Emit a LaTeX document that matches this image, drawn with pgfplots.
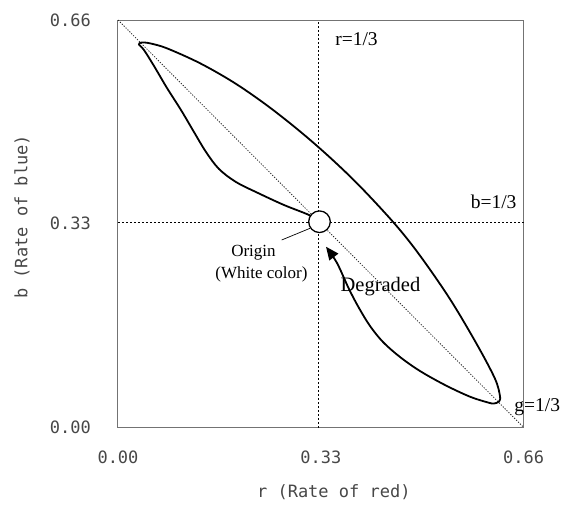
\documentclass[border=0pt]{standalone}
\usepackage{fontspec}
\setmainfont{Liberation Serif}
\newfontfamily\monofont{DejaVu Sans Mono}
\usepackage{pgfplots}
\pgfplotsset{compat=1.18}
\usetikzlibrary{arrows.meta}
\begin{document}
\begin{tikzpicture}
\begin{axis}[
  scale only axis,
  width=405.7pt, height=407.5pt,
  xmin=0, xmax=0.66, ymin=0, ymax=0.66,
  clip=false,
  axis line style={draw=black!55, line width=1pt},
  major tick length=0pt,
  xtick={0,0.33,0.66}, xticklabels={0.00,0.33,0.66},
  ytick={0,0.33,0.66}, yticklabels={0.00,0.33,0.66},
  /pgf/number format/assume math mode=true,
  tick label style={font=\monofont\fontsize{17}{20}\selectfont, text=black!72, inner sep=0pt},
  xticklabel style={anchor=center, yshift=-30.2pt},
  yticklabel style={anchor=east, xshift=-27pt},
  xlabel={r (Rate of red)},
  ylabel={b (Rate of blue)},
  label style={font=\monofont\fontsize{17}{20}\selectfont, text=black!72},
  xlabel style={at={(axis description cs:0.532,-0.1583)}, anchor=center},
  ylabel style={at={(axis description cs:-0.2366,0.517)}, anchor=center},
]
% reference lines
\addplot[black, line width=0.8pt, dash pattern=on 2pt off 2pt] coordinates {(0.326,0) (0.326,0.66)};
\addplot[black, line width=0.8pt, dash pattern=on 2pt off 2pt] coordinates {(0,0.333) (0.66,0.333)};
\addplot[black!85, line width=0.8pt, dash pattern=on 1.2pt off 1.5pt] coordinates {(0,0.66) (0.66,0)};
% loop curve
\addplot[black, line width=1.8pt, smooth, tension=0.55, -{Triangle[length=13pt,width=11pt]}] coordinates {
(0.3278,0.3333)
(0.3107,0.3442)
(0.2700,0.3604)
(0.2278,0.3798)
(0.1920,0.3976)
(0.1643,0.4187)
(0.1432,0.4462)
(0.1236,0.4786)
(0.1025,0.5142)
(0.0797,0.5499)
(0.0586,0.5855)
(0.0423,0.6114)
(0.0342,0.6203)
(0.0382,0.6235)
(0.0521,0.6222)
(0.0797,0.6141)
(0.1334,0.5900)
(0.1887,0.5586)
(0.2424,0.5217)
(0.2961,0.4796)
(0.3449,0.4373)
(0.3937,0.3906)
(0.4506,0.3294)
(0.4913,0.2784)
(0.5401,0.2080)
(0.5840,0.1344)
(0.6133,0.0790)
(0.6214,0.0510)
(0.6198,0.0421)
(0.6117,0.0389)
(0.6019,0.0405)
(0.5726,0.0499)
(0.5320,0.0688)
(0.4913,0.0915)
(0.4588,0.1142)
(0.4311,0.1385)
(0.4100,0.1644)
(0.3921,0.1935)
(0.3758,0.2243)
(0.3563,0.2664)
(0.3384,0.2928)
};
% leader line
\addplot[black, line width=0.7pt] coordinates {(0.2663,0.3037) (0.3123,0.3226)};
% origin circle
\addplot[only marks, mark=*, mark size=10.8pt, mark options={fill=white, draw=black, line width=1.3pt}] coordinates {(0.3278,0.3333)};
% labels
\node[anchor=base, font=\fontsize{19.5}{21}\selectfont] at (axis cs:0.388,0.6187) {r=1/3};
\node[anchor=base east, inner sep=0pt, font=\fontsize{19.5}{21}\selectfont] at (axis cs:0.6486,0.355) {b=1/3};
\node[anchor=base west, inner sep=0pt, font=\fontsize{19.5}{21}\selectfont] at (axis cs:0.6447,0.0256) {g=1/3};
\node[anchor=base, font=\fontsize{17}{20}\selectfont] at (axis cs:0.2204,0.2766) {Origin};
\node[anchor=base, font=\fontsize{17}{20}\selectfont] at (axis cs:0.2334,0.2416) {(White color)};
\node[anchor=base, font=\fontsize{20.5}{22}\selectfont] at (axis cs:0.427,0.22) {Degraded};
\end{axis}
\pgfresetboundingbox
\path (-118pt,-79.5pt) rectangle (455pt,427.5pt);
\end{tikzpicture}
\end{document}
